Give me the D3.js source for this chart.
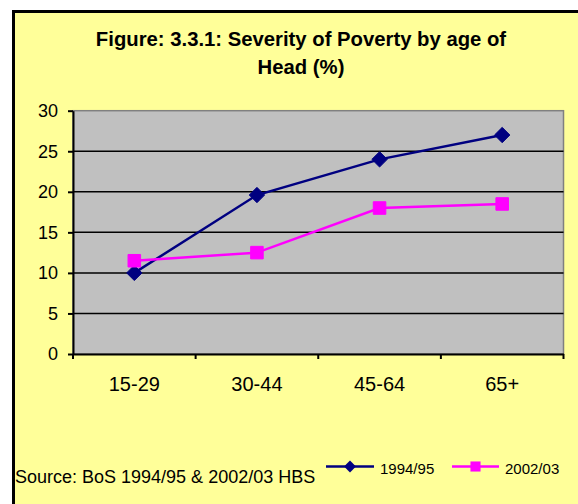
<!DOCTYPE html>
<html>
<head>
<meta charset="utf-8">
<script src="https://cdn.jsdelivr.net/npm/d3@7"></script>
<style>
  html, body { margin: 0; padding: 0; background: #ffffff; }
  svg { display: block; font-family: "Liberation Sans", Arial, sans-serif; }
</style>
</head>
<body>
<svg id="chart" width="578" height="504"></svg>
<script>
const categories = ["15-29", "30-44", "45-64", "65+"];
const series1994 = [10, 19.6, 24, 27];
const series2002 = [11.5, 12.5, 18, 18.5];
const seriesNames = ["1994/95", "2002/03"];
const yTicks = [0, 5, 10, 15, 20, 25, 30];
const titleLines = ["Figure: 3.3.1: Severity of Poverty by age of", "Head (%)"];
const sourceText = "Source: BoS 1994/95 & 2002/03 HBS";

const svg = d3.select("#chart");

// chart area background + border
svg.append("rect").attr("x", 13.5).attr("y", 11.5).attr("width", 600).attr("height", 520)
  .attr("fill", "#FFFF99").attr("stroke", "#000").attr("stroke-width", 3);

const L = 73, R = 563.5, T = 110.7, B = 354;

const x = d3.scaleBand().domain(categories).range([L, R]);
const y = d3.scaleLinear().domain([0, 30]).range([B, T]);

// plot area
svg.append("rect").attr("x", L).attr("y", T).attr("width", R - L).attr("height", B - T)
  .attr("fill", "#C0C0C0").attr("stroke", "#808080").attr("stroke-width", 1.5);

// gridlines
svg.append("g").selectAll("line").data(yTicks.filter(d => d > 0 && d < 30)).join("line")
  .attr("x1", L).attr("x2", R).attr("y1", d => y(d)).attr("y2", d => y(d))
  .attr("stroke", "#000").attr("stroke-width", 1.5);

// y axis
const yAxis = svg.append("g").attr("transform", `translate(${L},0)`)
  .call(d3.axisLeft(y).tickValues(yTicks).tickSize(5).tickSizeOuter(0).tickPadding(10));
yAxis.select(".domain").attr("stroke", "#000").attr("stroke-width", 2);
yAxis.selectAll(".tick line").attr("stroke", "#000").attr("stroke-width", 2);
yAxis.selectAll(".tick text").attr("font-size", 18).attr("fill", "#000")
  .attr("font-family", "Liberation Sans, Arial, sans-serif");

// x axis
const xAxis = svg.append("g").attr("transform", `translate(0,${B})`)
  .call(d3.axisBottom(x).tickSize(0).tickPadding(23));
xAxis.select(".domain").attr("stroke", "#000").attr("stroke-width", 2);
xAxis.selectAll(".tick text").attr("font-size", 20).attr("fill", "#000")
  .attr("font-family", "Liberation Sans, Arial, sans-serif");
// tick marks at category boundaries
const bounds = categories.map(c => x(c)).concat([x(categories[categories.length - 1]) + x.bandwidth()]);
svg.append("g").selectAll("line").data(bounds).join("line")
  .attr("x1", d => d).attr("x2", d => d).attr("y1", B).attr("y2", B + 5)
  .attr("stroke", "#000").attr("stroke-width", 2);

const cx = c => x(c) + x.bandwidth() / 2;
const line = d3.line().x((d, i) => cx(categories[i])).y(d => y(d));

// series lines
svg.append("path").datum(series1994).attr("d", line).attr("fill", "none")
  .attr("stroke", "#000080").attr("stroke-width", 2.5);
svg.append("path").datum(series2002).attr("d", line).attr("fill", "none")
  .attr("stroke", "#FF00FF").attr("stroke-width", 2.5);

const diamond = d3.symbol().type(d3.symbolDiamond2);
const square = d3.symbol().type(d3.symbolSquare2);

svg.append("g").selectAll("path").data(series1994).join("path")
  .attr("transform", (d, i) => `translate(${cx(categories[i])},${y(d)})`)
  .attr("d", diamond.size(150)()).attr("fill", "#000080").attr("stroke", "#000080");
svg.append("g").selectAll("path").data(series2002).join("path")
  .attr("transform", (d, i) => `translate(${cx(categories[i])},${y(d)})`)
  .attr("d", square.size(200)()).attr("fill", "#FF00FF").attr("stroke", "#FF00FF");

// title
svg.append("g").selectAll("text").data(titleLines).join("text")
  .attr("x", 301).attr("y", (d, i) => 46 + i * 27.5)
  .attr("text-anchor", "middle").attr("font-weight", "bold").attr("font-size", 20.3)
  .attr("fill", "#000").text(d => d);

// source
svg.append("text").attr("x", 15).attr("y", 483).attr("font-size", 18).attr("fill", "#000").text(sourceText);

// legend
const legend = [
  { name: seriesNames[0], color: "#000080", sym: diamond.size(90)(), x1: 326, x2: 374, tx: 380 },
  { name: seriesNames[1], color: "#FF00FF", sym: square.size(130)(), x1: 452, x2: 499, tx: 505 }
];
const lg = svg.append("g").selectAll("g").data(legend).join("g");
lg.append("line").attr("x1", d => d.x1).attr("x2", d => d.x2).attr("y1", 466.5).attr("y2", 466.5)
  .attr("stroke", d => d.color).attr("stroke-width", 2.5);
lg.append("path").attr("transform", d => `translate(${(d.x1 + d.x2) / 2},466.5)`)
  .attr("d", d => d.sym).attr("fill", d => d.color);
lg.append("text").attr("x", d => d.tx).attr("y", 474).attr("font-size", 15).attr("fill", "#000")
  .text(d => d.name);
</script>
</body>
</html>
